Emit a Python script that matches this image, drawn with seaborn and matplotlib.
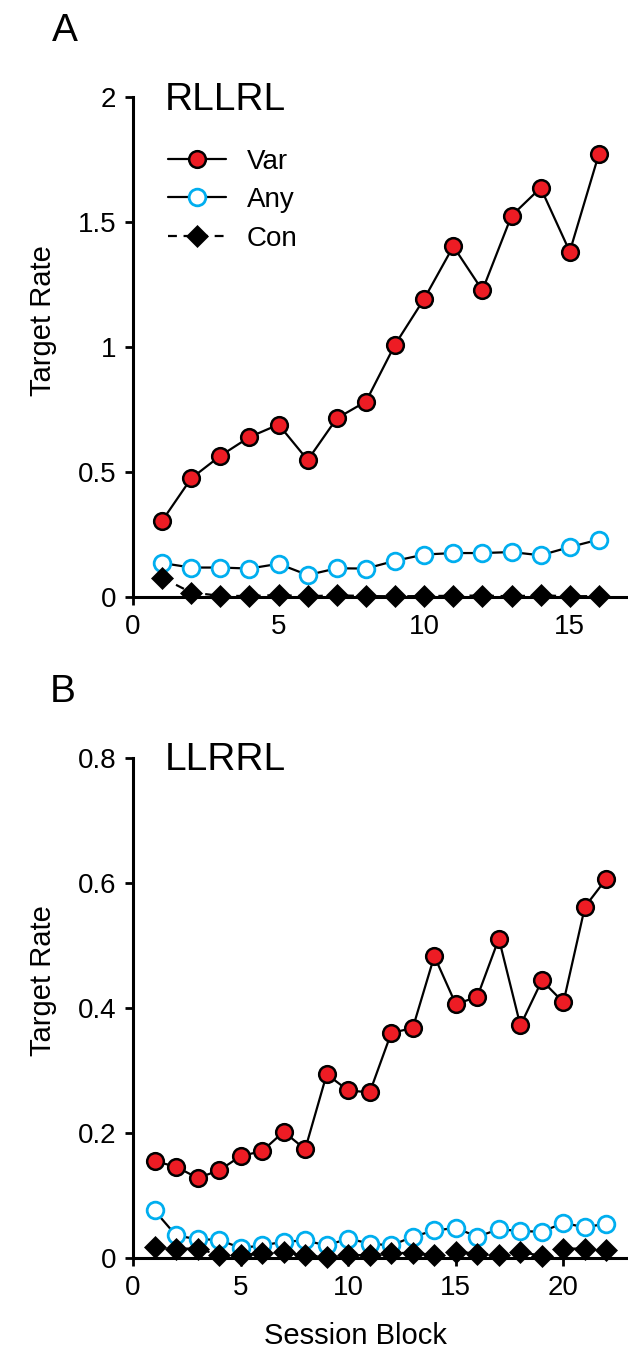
import numpy as np
import matplotlib
matplotlib.use("Agg")
import matplotlib.pyplot as plt
import seaborn as sns

# panel A: RLLRL, 16 session blocks
blocks_a = list(range(1, 17))
var_a = [0.305, 0.475, 0.565, 0.64, 0.69, 0.548, 0.715, 0.782, 1.01, 1.193,
         1.403, 1.227, 1.525, 1.637, 1.382, 1.772]
any_a = [0.136, 0.118, 0.118, 0.114, 0.133, 0.088, 0.115, 0.114, 0.145, 0.17,
         0.176, 0.176, 0.18, 0.167, 0.2, 0.23]
con_a = [0.077, 0.018, 0.005, 0.004, 0.008, 0.003, 0.007, 0.004, 0.003, 0.004,
         0.005, 0.006, 0.003, 0.007, 0.003, 0.004]

# panel B: LLRRL, 22 session blocks
blocks_b = list(range(1, 23))
var_b = [0.155, 0.146, 0.128, 0.14, 0.163, 0.171, 0.202, 0.174, 0.294, 0.268,
         0.265, 0.36, 0.368, 0.483, 0.406, 0.418, 0.511, 0.372, 0.444, 0.409,
         0.562, 0.607]
any_b = [0.076, 0.036, 0.03, 0.029, 0.016, 0.02, 0.026, 0.028, 0.02, 0.031,
         0.023, 0.02, 0.034, 0.044, 0.048, 0.034, 0.046, 0.043, 0.042, 0.056,
         0.049, 0.055]
con_b = [0.018, 0.015, 0.015, 0.005, 0.004, 0.008, 0.009, 0.004, 0.002, 0.005,
         0.004, 0.008, 0.008, 0.005, 0.010, 0.007, 0.005, 0.010, 0.003, 0.015,
         0.015, 0.013]

series_names = ["Var", "Any", "Con"]
red = "#ED1C24"
cyan = "#00AEEF"

sns.set_style("ticks")
plt.rcParams["font.family"] = ["Liberation Sans", "DejaVu Sans"]
for k in ["text.color", "axes.labelcolor", "xtick.color", "ytick.color", "axes.edgecolor"]:
    plt.rcParams[k] = "black"

fig = plt.figure(figsize=(6.28, 13.56), dpi=100)
ax_a = fig.add_axes([0.2118, 0.5597, 0.7882, 0.3687])
ax_b = fig.add_axes([0.2118, 0.0723, 0.7882, 0.3687])


def draw_panel(ax, x, v, a, c):
    sns.lineplot(x=x, y=v, ax=ax, color="black", lw=1.6, marker="o",
                 markersize=12, markerfacecolor=red, markeredgecolor="black",
                 markeredgewidth=1.8, label=series_names[0], clip_on=False, zorder=3)
    sns.lineplot(x=x, y=a, ax=ax, color="black", lw=1.6, marker="o",
                 markersize=12, markerfacecolor="white", markeredgecolor=cyan,
                 markeredgewidth=2.0, label=series_names[1], clip_on=False, zorder=4)
    sns.lineplot(x=x, y=c, ax=ax, color="black", lw=1.6, ls=(0, (4, 3)), marker="D",
                 markersize=11.5, markerfacecolor="black", markeredgecolor="black",
                 markeredgewidth=0.5, label=series_names[2], clip_on=False, zorder=5)
    for s in ["top", "right"]:
        ax.spines[s].set_visible(False)
    for s in ["left", "bottom"]:
        ax.spines[s].set_linewidth(2.2)
    ax.tick_params(axis="both", direction="out", length=6, width=2, labelsize=20, pad=6)
    ax.set_ylabel("Target Rate", fontsize=21)
    ax.yaxis.set_label_coords(-0.154, 0.554)


draw_panel(ax_a, blocks_a, var_a, any_a, con_a)
ax_a.set_xlim(0, 17)
ax_a.set_ylim(0, 2)
ax_a.set_xticks([0, 5, 10, 15])
ax_a.set_yticks([0, 0.5, 1, 1.5, 2])
ax_a.set_yticklabels(["0", "0.5", "1", "1.5", "2"])
ax_a.set_xlabel("")
ax_a.legend(loc="upper left", bbox_to_anchor=(0.07, 0.897), frameon=False,
            fontsize=20, handlelength=2.1, handletextpad=0.75, labelspacing=0.45,
            borderpad=0, borderaxespad=0)
ax_a.text(0.065, 0.974, "RLLRL", transform=ax_a.transAxes, fontsize=28,
          ha="left", va="baseline")

draw_panel(ax_b, blocks_b, var_b, any_b, con_b)
ax_b.set_xlim(0, 23)
ax_b.set_ylim(0, 0.8)
ax_b.set_xticks([0, 5, 10, 15, 20])
ax_b.set_yticks([0, 0.2, 0.4, 0.6, 0.8])
ax_b.set_yticklabels(["0", "0.2", "0.4", "0.6", "0.8"])
ax_b.get_legend().remove()
ax_b.set_xlabel("Session Block", fontsize=21)
ax_b.xaxis.set_label_coords(0.45, -0.128)
ax_b.text(0.065, 0.976, "LLRRL", transform=ax_b.transAxes, fontsize=28,
          ha="left", va="baseline")

fig.text(0.083, 0.970, "A", fontsize=28, ha="left", va="baseline")
fig.text(0.080, 0.482, "B", fontsize=28, ha="left", va="baseline")

fig.savefig("out.png", dpi=100)
